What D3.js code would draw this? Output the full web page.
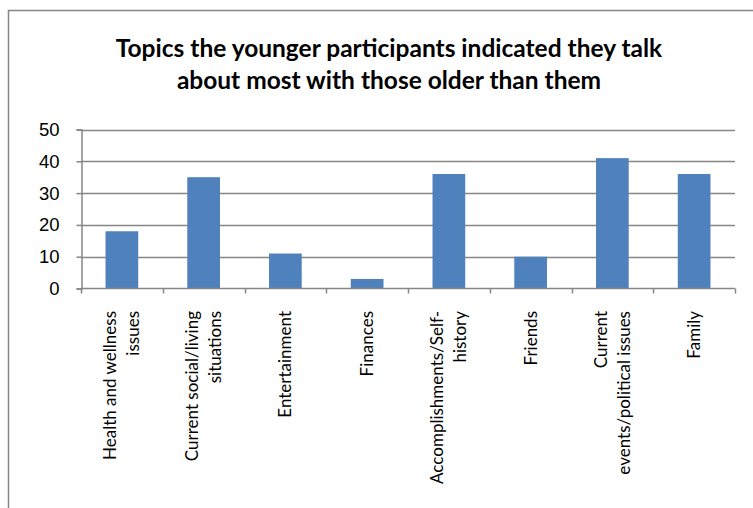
<!DOCTYPE html>
<html>
<head>
<meta charset="utf-8">
<script src="https://cdn.jsdelivr.net/npm/d3@7/dist/d3.min.js"></script>
<style>
  html, body { margin: 0; padding: 0; background: #fff; }
  svg { display: block; font-family: "Lato", "Open Sans", sans-serif; }
</style>
</head>
<body>
<svg id="chart" width="753" height="508"></svg>
<script>
// Topic categories (line breaks mark how each axis label wraps)
const categories = [
  "Health and wellness\nissues",
  "Current social/living\nsituations",
  "Entertainment",
  "Finances",
  "Accomplishments/Self-\nhistory",
  "Friends",
  "Current\nevents/political issues",
  "Family"
];
// Number of younger participants naming each topic
const counts = [18, 35, 11, 3, 36, 10, 41, 36];
// Value-axis ticks
const yTicks = [0, 10, 20, 30, 40, 50];
const titleLines = [
  "Topics the younger participants indicated they talk",
  "about most with those older than them"
];

const svg = d3.select("#chart");
const W = 753, H = 508;
const plot = { left: 81, right: 735, top: 129.5, bottom: 288.5 };
const gridColor = "#868686";
const barColor = "#4f81bd";

// Chart frame (top and left edges visible)
svg.append("path")
  .attr("d", `M8.5,${H} V10.5 H${W}`)
  .attr("fill", "none")
  .attr("stroke", gridColor)
  .attr("stroke-width", 1.5);

// Title
svg.append("text")
  .attr("text-anchor", "middle")
  .attr("font-weight", "bold")
  .attr("font-size", 24.5)
  .attr("fill", "#000")
  .selectAll("tspan")
  .data(titleLines)
  .join("tspan")
  .attr("x", 389)
  .attr("y", (d, i) => 57 + i * 32)
  .text(d => d);

const x = d3.scaleBand()
  .domain(categories)
  .range([plot.left, plot.right])
  .paddingInner(0.6)
  .paddingOuter(0.3);

const y = d3.scaleLinear()
  .domain([0, 50])
  .range([plot.bottom, plot.top]);

// Horizontal gridlines
svg.append("g")
  .selectAll("line")
  .data(yTicks.filter(t => t > 0))
  .join("line")
  .attr("x1", plot.left)
  .attr("x2", plot.right)
  .attr("y1", d => Math.round(y(d)) + 0.5)
  .attr("y2", d => Math.round(y(d)) + 0.5)
  .attr("stroke", gridColor)
  .attr("stroke-width", 1.5);

// Bars
svg.append("g")
  .selectAll("rect")
  .data(counts)
  .join("rect")
  .attr("x", (d, i) => x(categories[i]))
  .attr("width", x.bandwidth())
  .attr("y", d => y(d))
  .attr("height", d => y(0) - y(d))
  .attr("fill", barColor);

// Value axis
const yAxis = svg.append("g")
  .attr("transform", `translate(${plot.left + 0.5},0)`)
  .call(d3.axisLeft(y).tickValues(yTicks).tickSize(5).tickPadding(17).tickFormat(d3.format("d")));
yAxis.selectAll("path, line").attr("stroke", gridColor).attr("stroke-width", 1.5);
yAxis.selectAll("text").attr("font-size", 18.5).attr("fill", "#000").attr("font-family", null);

// Category axis with ticks between categories
const boundaries = d3.range(categories.length + 1).map(i => plot.left + i * x.step());
const xAxis = svg.append("g");
xAxis.append("line")
  .attr("x1", plot.left).attr("x2", plot.right)
  .attr("y1", plot.bottom).attr("y2", plot.bottom)
  .attr("stroke", gridColor).attr("stroke-width", 1.5);
xAxis.selectAll(".tick")
  .data(boundaries)
  .join("line")
  .attr("x1", d => Math.round(d) + 0.5).attr("x2", d => Math.round(d) + 0.5)
  .attr("y1", plot.bottom).attr("y2", plot.bottom + 5)
  .attr("stroke", gridColor).attr("stroke-width", 1.5);

// Rotated category labels, read bottom to top
const lineGap = 23;
xAxis.selectAll(".label")
  .data(categories)
  .join("text")
  .attr("class", "label")
  .attr("font-size", 17)
  .attr("fill", "#000")
  .attr("text-anchor", "end")
  .attr("transform", d => `translate(${x(d) + x.bandwidth() / 2},311) rotate(-90)`)
  .each(function(d) {
    const lines = d.split("\n");
    const first = 6 - (lines.length - 1) * lineGap / 2;
    d3.select(this).selectAll("tspan")
      .data(lines)
      .join("tspan")
      .attr("x", 0)
      .attr("y", (l, i) => first + i * lineGap)
      .text(l => l);
  });
</script>
</body>
</html>
